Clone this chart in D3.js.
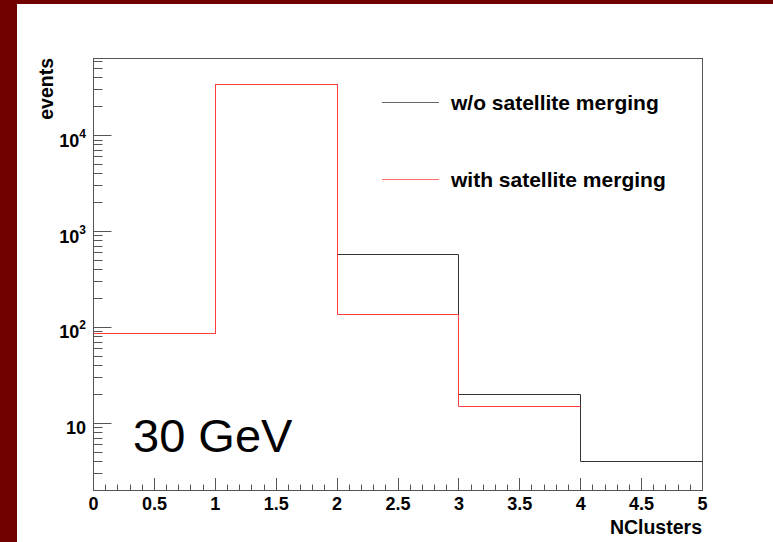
<!DOCTYPE html>
<html>
<head>
<meta charset="utf-8">
<script src="https://cdn.jsdelivr.net/npm/d3@7"></script>
<style>
  html, body { margin: 0; padding: 0; background: #fff; }
  svg { display: block; }
  text { font-family: "Liberation Sans", Arial, Helvetica, sans-serif; }
</style>
</head>
<body>
<svg id="chart" width="773" height="542"></svg>
<script>
// Histogram bins (NClusters) and event counts
const binEdges = [0, 1, 2, 3, 4, 5];
const withoutMerging = [87, 34200, 575, 20, 4];
const withMerging = [87, 34200, 136, 15, 0];
const seriesNames = ["w/o satellite merging", "with satellite merging"];
const seriesColors = ["#333333", "#ff3c3c"];

const xTickMajor = [0, 0.5, 1, 1.5, 2, 2.5, 3, 3.5, 4, 4.5, 5];
const yDecades = [10, 100, 1000, 10000];
const yDecadeLabels = [["10", ""], ["10", "2"], ["10", "3"], ["10", "4"]];
const yRange = [1.99, 63800];
const xRange = [0, 5];
const energyLabel = "30 GeV";
const xTitle = "NClusters";
const yTitle = "events";

const W = 773, H = 542;
const frame = { left: 93.5, right: 702.5, top: 58.5, bottom: 490.5 };

const svg = d3.select("#chart");

// canvas border
svg.append("rect").attr("x", 0).attr("y", 0).attr("width", W).attr("height", H).attr("fill", "#710000");
svg.append("rect").attr("x", 17).attr("y", 4).attr("width", W - 17).attr("height", H - 4).attr("fill", "#fff");

const x = d3.scaleLinear().domain(xRange).range([frame.left, frame.right]);
const y = d3.scaleLog().domain(yRange).range([frame.bottom, frame.top]);

svg.append("clipPath").attr("id", "plotclip")
  .append("rect")
  .attr("x", frame.left - 1).attr("y", frame.top - 1)
  .attr("width", frame.right - frame.left + 2).attr("height", frame.bottom - frame.top + 2);

function stepPoints(values) {
  const pts = [{ x: binEdges[0], v: yRange[0] }];
  values.forEach((v, i) => {
    pts.push({ x: binEdges[i], v: v });
    pts.push({ x: binEdges[i + 1], v: v });
  });
  return pts;
}

const line = d3.line()
  .defined(d => d.v > 0)
  .x(d => Math.floor(x(d.x)) + 0.5)
  .y(d => Math.floor(y(d.v)) + 0.5);

const plot = svg.append("g").attr("clip-path", "url(#plotclip)");
[withoutMerging, withMerging].forEach((vals, i) => {
  plot.append("path")
    .attr("d", line(stepPoints(vals)))
    .attr("fill", "none")
    .attr("stroke", seriesColors[i])
    .attr("stroke-width", 1);
});

// frame
svg.append("rect")
  .attr("x", frame.left).attr("y", frame.top)
  .attr("width", frame.right - frame.left).attr("height", frame.bottom - frame.top)
  .attr("fill", "none").attr("stroke", "#555").attr("stroke-width", 1);

// x axis ticks (pointing up into the frame)
const xAxisG = svg.append("g");
const xMinor = d3.range(0, 51).map(i => i / 10);
xMinor.forEach(v => {
  const major = Math.abs(v * 2 - Math.round(v * 2)) < 1e-9;
  const px = Math.floor(x(v)) + 0.5;
  xAxisG.append("line")
    .attr("x1", px).attr("x2", px)
    .attr("y1", frame.bottom).attr("y2", frame.bottom - (major ? 12.5 : 6))
    .attr("stroke", "#555").attr("stroke-width", 1);
});
xTickMajor.forEach(v => {
  xAxisG.append("text")
    .attr("x", x(v)).attr("y", 510)
    .attr("text-anchor", "middle")
    .attr("font-size", 18).attr("font-weight", "bold")
    .text(d3.format("")(v));
});

// y axis ticks (pointing right into the frame)
const yAxisG = svg.append("g");
const yTicks = y.ticks();
yTicks.forEach(v => {
  const isDecade = Math.abs(Math.log10(v) - Math.round(Math.log10(v))) < 1e-9;
  const py = Math.floor(y(v)) + 0.5;
  if (py < frame.top || py > frame.bottom) return;
  yAxisG.append("line")
    .attr("x1", frame.left).attr("x2", frame.left + (isDecade ? 18 : 9))
    .attr("y1", py).attr("y2", py)
    .attr("stroke", "#555").attr("stroke-width", 1);
});
yDecades.forEach((v, i) => {
  const t = yAxisG.append("text")
    .attr("x", 86).attr("y", y(v) + 11)
    .attr("text-anchor", "end")
    .attr("font-size", 18).attr("font-weight", "bold");
  t.append("tspan").text(yDecadeLabels[i][0]);
  if (yDecadeLabels[i][1]) {
    t.append("tspan").attr("dy", -9).attr("font-size", 12).text(yDecadeLabels[i][1]);
  }
});

// axis titles
svg.append("text")
  .attr("x", 702).attr("y", 534)
  .attr("text-anchor", "end")
  .attr("font-size", 19.5).attr("font-weight", "bold")
  .text(xTitle);
svg.append("text")
  .attr("transform", "translate(53.3,58) rotate(-90)")
  .attr("text-anchor", "end")
  .attr("font-size", 19.5).attr("font-weight", "bold")
  .text(yTitle);

// energy label
svg.append("text")
  .attr("x", 133).attr("y", 452)
  .attr("font-size", 47)
  .text(energyLabel);

// legend
const legendY = [102.5, 179.5];
const legendBase = [110, 187];
seriesNames.forEach((name, i) => {
  svg.append("line")
    .attr("x1", 382).attr("x2", 439)
    .attr("y1", legendY[i]).attr("y2", legendY[i])
    .attr("stroke", seriesColors[i]).attr("stroke-width", 1)
    .attr("stroke-opacity", 0.75);
  svg.append("text")
    .attr("x", 451).attr("y", legendBase[i])
    .attr("font-size", 21).attr("font-weight", "bold")
    .text(name);
});
</script>
</body>
</html>
